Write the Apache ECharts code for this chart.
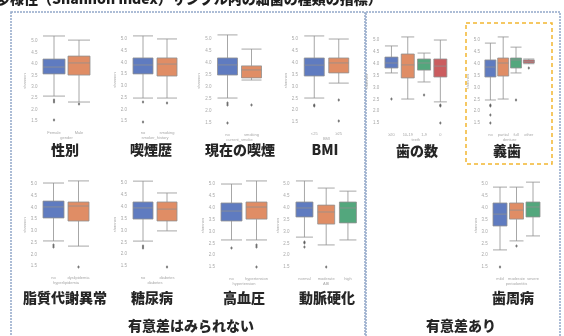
<!DOCTYPE html>
<html><head><meta charset="utf-8">
<script src="https://cdn.jsdelivr.net/npm/echarts@6/dist/echarts.min.js"></script>
<style>html,body{margin:0;padding:0;background:#fff}#c{width:564px;height:336px}</style>
</head><body><div id="c"></div>
<script>
// ---- data (Shannon index) ----
const genderCats = ['Female','Male'];
const genderBoxes = [[2.59,3.56,3.86,4.21,5.22],[2.33,3.51,4.04,4.34,5.04]];
const genderOut = [[0,2.42],[0,2.33],[0,1.54],[1,2.24]];

const smokeHistCats = ['no','smoking'];
const smokeHistBoxes = [[2.48,3.51,3.89,4.19,5.13],[2.48,3.42,3.93,4.19,5.0]];
const smokeHistOut = [[0,2.31],[0,1.46],[1,2.27]];

const smokeNowCats = ['no','smoking'];
const smokeNowBoxes = [[2.54,3.5,3.92,4.21,5.17],[3.29,3.38,3.71,3.88,4.58]];
const smokeNowOut = [[0,2.33],[0,2.25],[0,1.5],[1,2.25]];

const bmiCats = ['<25','≥25'];
const bmiBoxes = [[2.51,3.44,3.9,4.2,5.13],[3.14,3.57,3.99,4.2,5.0]];
const bmiOut = [[0,2.22],[0,2.17],[1,2.43],[1,1.54]];

const teethCats = ['≥20','10-19','1-9','0'];
const teethBoxes = [[3.61,3.82,4.03,4.28,4.75],[2.51,3.4,3.95,4.41,5.13],[3.23,3.73,4.03,4.2,4.45],[2.39,3.44,3.9,4.2,5.0]];
const teethOut = [[0,2.51],[2,2.68],[3,2.26],[3,2.22],[3,1.5]];

const dentureCats = ['no','partial','full','other'];
const dentureBoxes = [[2.47,3.44,3.86,4.16,4.87],[2.51,3.48,4.03,4.24,5.13],[3.61,3.82,4.16,4.24,4.7],[4.0,4.03,4.1,4.16,4.2]];
const dentureOut = [[0,2.26],[0,2.22],[0,1.84],[0,1.5],[2,2.47],[3,3.82]];

const lipidCats = ['no','dyslipidemia'];
const lipidBoxes = [[2.57,3.55,4.02,4.27,5.04],[2.35,3.42,4.06,4.23,5.13]];
const lipidOut = [[0,2.4],[0,2.31],[1,1.46]];

const diabCats = ['no','diabetes'];
const diabBoxes = [[2.55,3.48,3.95,4.2,5.08],[2.98,3.4,3.9,4.2,4.58]];
const diabOut = [[0,2.34],[0,2.26],[1,1.46]];

const htCats = ['no','hypertension'];
const htBoxes = [[2.64,3.44,3.86,4.2,5.0],[2.64,3.52,4.03,4.24,5.13]];
const htOut = [[0,2.3],[1,2.43],[1,2.34],[1,1.5]];

const abiCats = ['normal','moderate','high'];
const abiBoxes = [[2.76,3.61,3.99,4.24,5.13],[2.43,3.31,3.82,4.11,4.83],[2.64,3.36,3.99,4.24,4.7]];
const abiOut = [[0,2.55],[0,2.51],[0,2.34],[1,1.5]];

const perioCats = ['mild','moderate','severe'];
const perioBoxes = [[2.22,3.23,3.73,4.2,4.87],[2.6,3.52,3.9,4.2,4.87],[2.81,3.61,4.03,4.24,5.08]];
const perioOut = [[0,1.5],[1,2.39]];

const plotTitles = ['性別','喫煙歴','現在の喫煙','BMI','歯の数','義歯','脂質代謝異常','糖尿病','高血圧','動脈硬化','歯周病'];
const xNames = ['gender','smoker_history','current_smoke','BMI','teeth','denture','hyperlipidemia','diabetes','hypertension','ABI','periodontitis'];
const headline = '多様性（Shannon index）サンプル内の細菌の種類の指標）';
const groupLabels = ['有意差はみられない','有意差あり'];
const yMin = 1.25, yMax = 5.25, yStep = 0.25;

// ---- layout ----
const plots = [
  {cats:genderCats, boxes:genderBoxes, out:genderOut, g:[41.5,35.3,50,91.4], bw:22, t:[65,150]},
  {cats:smokeHistCats, boxes:smokeHistBoxes, out:smokeHistOut, g:[131,33.1,48,93.8], bw:20, t:[151,150]},
  {cats:smokeNowCats, boxes:smokeNowBoxes, out:smokeNowOut, g:[215.5,33,48,96], bw:20, t:[240,150]},
  {cats:bmiCats, boxes:bmiBoxes, out:bmiOut, g:[302,33.1,49,94.8], bw:20, t:[325,150]},
  {cats:teethCats, boxes:teethBoxes, out:teethOut, g:[383.3,34.1,65.2,94.8], bw:13, t:[417,151]},
  {cats:dentureCats, boxes:dentureBoxes, out:dentureOut, g:[484,34.1,51.2,94.8], bw:11, t:[507,151]},
  {cats:lipidCats, boxes:lipidBoxes, out:lipidOut, g:[41,178.1,50,93.8], bw:21, t:[65,298]},
  {cats:diabCats, boxes:diabBoxes, out:diabOut, g:[131,177.1,48,94.8], bw:20, t:[152,298]},
  {cats:htCats, boxes:htBoxes, out:htOut, g:[219,178.1,50,94.8], bw:21, t:[244,298]},
  {cats:abiCats, boxes:abiBoxes, out:abiOut, g:[293.6,178.1,65.2,94.8], bw:17, t:[327,298]},
  {cats:perioCats, boxes:perioBoxes, out:perioOut, g:[491.75,178.1,49.5,94.8], bw:14, t:[513,298]}
];
const colors = ['#5f7bc0','#e08d65','#53a77d','#cb5c5f'];
const lab = '#a8a8a8';

const grid=[], xAxis=[], yAxis=[], series=[], graphic=[];
plots.forEach((p,i)=>{
  grid.push({left:p.g[0], top:p.g[1], width:p.g[2], height:p.g[3]});
  xAxis.push({type:'category', gridIndex:i, data:p.cats, name:xNames[i], nameLocation:'middle', nameGap:9,
    nameTextStyle:{fontSize:4, color:lab}, axisLine:{show:false}, axisTick:{show:false},
    axisLabel:{fontSize:4, color:lab, margin:4, interval:0}});
  yAxis.push({type:'value', gridIndex:i, min:yMin, max:yMax, interval:yStep, name:'shannon', nameLocation:'middle', nameGap:14,
    nameTextStyle:{fontSize:4, color:lab}, splitLine:{show:false}, axisLine:{show:false}, axisTick:{show:false},
    axisLabel:{fontSize:4.5, color:lab, margin:4, formatter:v=>{const d=v*2; return Math.abs(d-Math.round(d))<1e-6 ? v.toFixed(1) : '';}}});
  series.push({type:'boxplot', xAxisIndex:i, yAxisIndex:i, boxWidth:[p.bw,p.bw],
    data:p.boxes.map((b,k)=>({value:b, itemStyle:{color:colors[k], borderColor:'#909090', borderWidth:0.8}})),
    emphasis:{disabled:true}, silent:true});
  series.push({type:'scatter', xAxisIndex:i, yAxisIndex:i, symbol:'diamond', symbolSize:[2.5,3.5],
    data:p.out.map(o=>[p.cats[o[0]], o[1]]), itemStyle:{color:'#555'}, silent:true});
  graphic.push({type:'text', style:{text:plotTitles[i], x:p.t[0], y:p.t[1],
    align:'center', verticalAlign:'middle', font:'900 14px "Noto Sans CJK JP"', fill:'#262626'}});
});

graphic.push(
  {type:'rect', shape:{x:11, y:12, width:354, height:340}, style:{fill:'none', stroke:'#93a8c9', lineWidth:1.5, lineDash:[2,1]}},
  {type:'rect', shape:{x:366, y:12, width:194, height:340}, style:{fill:'none', stroke:'#93a8c9', lineWidth:1.5, lineDash:[2,1]}},
  {type:'rect', shape:{x:466, y:23, width:86, height:141}, style:{fill:'none', stroke:'#f2b630', lineWidth:1.5, lineDash:[4,3]}},
  {type:'text', style:{text:headline, x:-4, y:-1, verticalAlign:'middle',
    font:'900 14px "Noto Sans CJK JP"', fill:'#1e1e1e'}},
  {type:'text', style:{text:groupLabels[0], x:191, y:326, align:'center', verticalAlign:'middle',
    font:'900 14px "Noto Sans CJK JP"', fill:'#262626'}},
  {type:'text', style:{text:groupLabels[1], x:461, y:326, align:'center', verticalAlign:'middle',
    font:'900 14px "Noto Sans CJK JP"', fill:'#262626'}}
);

const chart = echarts.init(document.getElementById('c'), null, {renderer:'canvas'});
chart.setOption({animation:false, backgroundColor:'#ffffff', grid, xAxis, yAxis, series, graphic});
</script></body></html>
